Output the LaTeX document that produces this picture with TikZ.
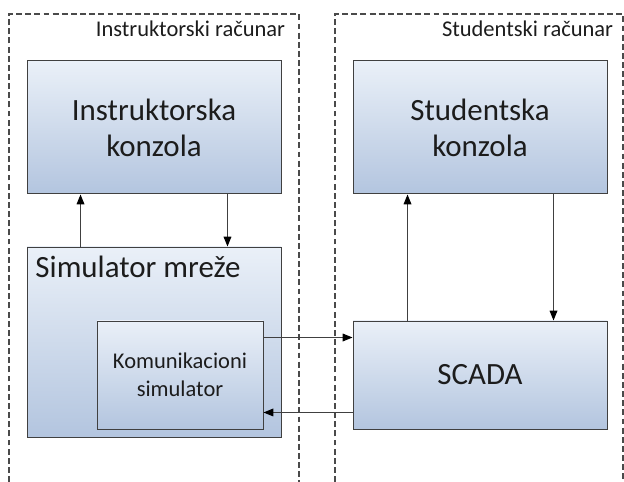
\documentclass[tikz,border=0pt]{standalone}
\usepackage{fontspec}
\setmainfont{Carlito}
\usetikzlibrary{arrows.meta}
\definecolor{boxtop}{HTML}{EAF0F8}
\definecolor{boxbot}{HTML}{B3C5DF}
\definecolor{boxline}{HTML}{404040}
\definecolor{okvirline}{HTML}{4A4A4A}
\definecolor{tekst}{HTML}{1C1C1C}
\tikzset{
  blok/.style={draw=boxline, line width=0.7pt, top color=boxtop, bottom color=boxbot,
    inner sep=0pt, text=tekst, align=center},
  veliki/.style={font=\fontsize{22}{25.6}\selectfont},
  mali/.style={font=\fontsize{16}{19.8}\selectfont},
  okvir/.style={draw=okvirline, line width=0.75pt, dash pattern=on 4.2pt off 2.3pt},
  veza/.style={draw=boxline, line width=0.7pt, -{Triangle[length=7pt,width=5.5pt,color=black]}}
}
\begin{document}
\begin{tikzpicture}
  \useasboundingbox (0,0) rectangle (15.6,12.05);
  \draw[okvir] (0.225,0) -- (0.225,11.7) -- (7.475,11.7) -- (7.475,0); %左の破線枠
  \draw[okvir] (8.375,0) -- (8.375,11.7) -- (15.575,11.7) -- (15.575,0); %右の破線枠
  \node[anchor=base east, text=tekst, mali] (instrpc) at (7.25,11.125) {Instruktorski računar};
  \node[anchor=base east, text=tekst, mali] (studpc) at (15.45,11.125) {Studentski računar};

  \node[blok, veliki, minimum width=6.35cm, minimum height=3.325cm] (ik) at (3.85,8.8625) {Instruktorska\\konzola};
  \node[blok, veliki, minimum width=6.35cm, minimum height=3.325cm] (sk) at (12,8.8625) {Studentska\\konzola};
  \node[blok, minimum width=6.35cm, minimum height=4.75cm] (sim) at (3.85,3.5) {}; %simulator mreze
  \node[anchor=base west, text=tekst, veliki] (simlbl) at ([xshift=0.1cm,yshift=-0.775cm]sim.north west) {Simulator mreže};
  \node[blok, mali, minimum width=4.15cm, minimum height=2.7cm] (kom) at (4.5,2.675) {Komunikacioni\\simulator};
  \node[blok, veliki, minimum width=6.35cm, minimum height=2.7cm] (scada) at (12,2.675) {SCADA};

  \draw[veza] ([xshift=1.35cm]sim.north west) -- ([xshift=1.35cm]ik.south west);
  \draw[veza] ([xshift=-1.35cm]ik.south east) -- ([xshift=-1.35cm]sim.north east);
  \draw[veza] ([xshift=1.375cm]scada.north west) -- ([xshift=1.375cm]sk.south west);
  \draw[veza] ([xshift=-1.35cm]sk.south east) -- ([xshift=-1.35cm]scada.north east);
  \draw[veza] ([yshift=-0.425cm]kom.north east) -- ([yshift=-0.425cm]scada.north west); %右向き
  \draw[veza] ([yshift=0.425cm]scada.south west) -- ([yshift=0.425cm]kom.south east); %左向き
\end{tikzpicture}
\end{document}
